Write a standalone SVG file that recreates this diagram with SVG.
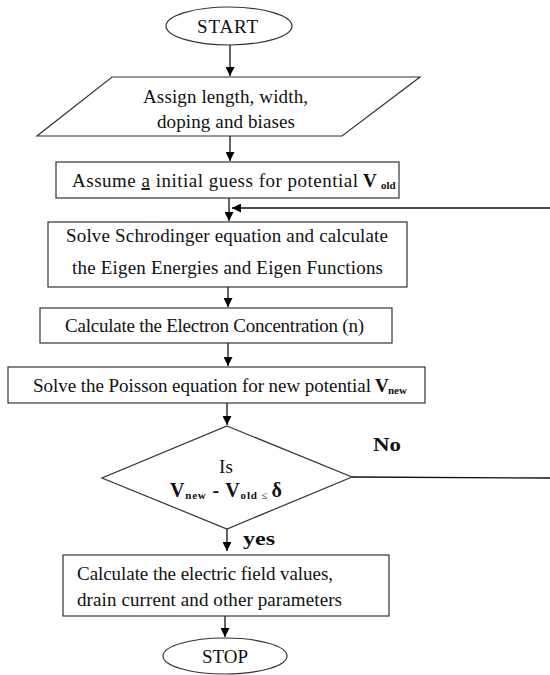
<svg xmlns="http://www.w3.org/2000/svg" width="550" height="675" viewBox="0 0 550 675">
<defs>
<marker id="ah" viewBox="0 0 10 10" refX="10" refY="5" markerWidth="9" markerHeight="9" markerUnits="userSpaceOnUse" orient="auto">
<path d="M0,0 L10,5 L0,10 z" fill="#000"/>
</marker>
</defs>
<style>
.s{fill:#fff;stroke:#333;stroke-width:1.2}
.t{font-family:"Liberation Serif","Times New Roman",serif;font-size:19px;fill:#111}
.b{font-weight:bold}
.sub{font-size:11px;font-weight:bold}
.c{stroke:#111;stroke-width:1.3;fill:none}
</style>
<rect width="550" height="675" fill="#fff"/>
<g id="connectors">
<line class="c" x1="230" y1="45" x2="230" y2="76" marker-end="url(#ah)"/>
<line class="c" x1="230" y1="136" x2="230" y2="161" marker-end="url(#ah)"/>
<line class="c" x1="229" y1="198" x2="229" y2="221" marker-end="url(#ah)"/>
<line class="c" x1="550" y1="208" x2="232" y2="208" marker-end="url(#ah)"/>
<line class="c" x1="228" y1="287" x2="228" y2="307" marker-end="url(#ah)"/>
<line class="c" x1="228" y1="343" x2="228" y2="366" marker-end="url(#ah)"/>
<line class="c" x1="227" y1="403" x2="227" y2="425" marker-end="url(#ah)"/>
<line class="c" x1="352" y1="477" x2="550" y2="478"/>
<line class="c" x1="227" y1="529" x2="227" y2="551" marker-end="url(#ah)"/>
<line class="c" x1="225" y1="616" x2="225" y2="637" marker-end="url(#ah)"/>
<text class="t b" x="373" y="451" textLength="28" lengthAdjust="spacingAndGlyphs" style="font-size:19px">No</text>
<text class="t b" x="243" y="545" textLength="32" lengthAdjust="spacingAndGlyphs" style="font-size:19px">yes</text>
</g>
<g id="start">
<ellipse class="s" cx="229" cy="26" rx="63" ry="19"/>
<text class="t" x="197" y="33" textLength="61">START</text>
</g>
<g id="assign">
<polygon class="s" points="112,77 420,77 342,136 37,136"/>
<text class="t" x="143" y="103" textLength="165">Assign length, width,</text>
<text class="t" x="157" y="128" textLength="138">doping and biases</text>
</g>
<g id="guess">
<rect class="s" x="56" y="162" width="343" height="36"/>
<text class="t" x="72" y="187" textLength="286">Assume <tspan text-decoration="underline">a</tspan> initial guess for potential</text>
<text class="t b" x="363" y="187">V</text>
<text class="t sub" x="381" y="189">old</text>
</g>
<g id="schrodinger">
<rect class="s" x="48" y="222" width="359" height="65"/>
<text class="t" x="66" y="242" textLength="322">Solve Schrodinger equation and calculate</text>
<text class="t" x="72" y="274" textLength="311">the Eigen Energies and Eigen Functions</text>
</g>
<g id="electron">
<rect class="s" x="40" y="308" width="352" height="35"/>
<text class="t" x="65" y="332" textLength="299">Calculate the Electron Concentration (n)</text>
</g>
<g id="poisson">
<rect class="s" x="8" y="367" width="417" height="36"/>
<text class="t" x="33" y="392" textLength="338">Solve the Poisson equation for new potential</text>
<text class="t b" x="375" y="392">V</text>
<text class="t sub" x="388" y="394">new</text>
</g>
<g id="decision">
<polygon class="s" points="227,426 352,477 227,529 102,478"/>
<text class="t" x="219" y="473" textLength="14">Is</text>
<text class="t b" x="170" y="497" textLength="112" style="font-size:20px">V<tspan class="sub" dy="2">new</tspan><tspan dy="-2"> - V</tspan><tspan class="sub" dy="2">old </tspan><tspan style="font-size:11px;font-weight:normal">≤ </tspan><tspan dy="-2">δ</tspan></text>
</g>
<g id="results">
<rect class="s" x="63" y="555" width="326" height="61"/>
<text class="t" x="77" y="580" textLength="256">Calculate the electric field values,</text>
<text class="t" x="77" y="606" textLength="265">drain current and other parameters</text>
</g>
<g id="stop">
<ellipse class="s" cx="225" cy="656" rx="62" ry="18"/>
<text class="t" x="202" y="663" textLength="46">STOP</text>
</g>
</svg>
